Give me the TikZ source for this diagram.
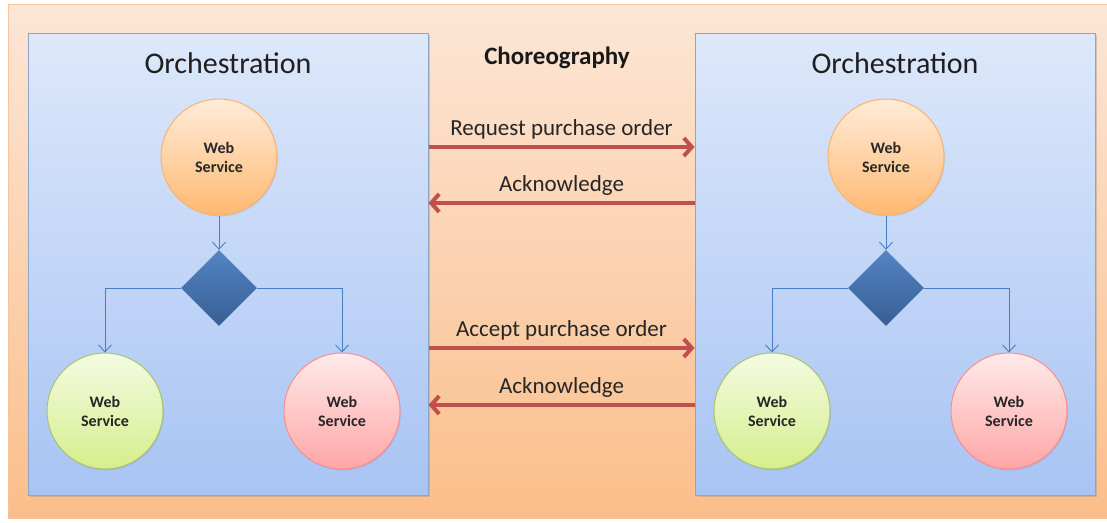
\documentclass[tikz,border=0pt]{standalone}
\usepackage{fontspec}
\setmainfont{Carlito}
\usepackage{xcolor}
\usepackage{tikz}
\usetikzlibrary{arrows.meta,shapes.geometric,shadows}
\definecolor{choretop}{HTML}{FCE6D6}
\definecolor{chorebottom}{HTML}{FBBE8A}
\definecolor{choreborder}{HTML}{F6C49C}
\definecolor{paneltop}{HTML}{DDE8FA}
\definecolor{panelbottom}{HTML}{A8C4F4}
\definecolor{panelborder}{HTML}{8DA5C6}
\definecolor{flowblue}{HTML}{4A7EC2}
\definecolor{msgred}{HTML}{C0504D}
\definecolor{greentop}{HTML}{F4FBE2}
\definecolor{greenbottom}{HTML}{D5EE8C}
\definecolor{greenborder}{HTML}{A9C46C}
\tikzset{
  chorebox/.style={draw=choreborder, line width=1pt, top color=choretop, bottom color=chorebottom, minimum width=1099pt, minimum height=514pt},
  panelbox/.style={draw=panelborder, line width=1pt, top color=paneltop, bottom color=panelbottom, minimum width=400pt, minimum height=462pt,
    drop shadow={shadow xshift=1.5pt, shadow yshift=-1.5pt, opacity=0.35, fill=black!45}},
  titletext/.style={font=\fontsize{30}{36}\selectfont, text=black!88},
  choretext/.style={font=\fontsize{25}{30}\selectfont\bfseries, text=black!90},
  wsnode/.style={circle, minimum size=116pt, inner sep=0pt, align=center, line width=1pt, font=\fontsize{16}{19}\selectfont\bfseries, text=black!85,
    drop shadow={shadow xshift=1pt, shadow yshift=-1.5pt, opacity=0.2, fill=black!50}},
  wsorange/.style={wsnode, draw=orange!60, top color=orange!15, bottom color=orange!55},
  wsgreen/.style={wsnode, draw=greenborder, top color=greentop, bottom color=greenbottom},
  wsred/.style={wsnode, draw=red!45, top color=red!8, bottom color=red!35},
  decision/.style={diamond, minimum width=76pt, minimum height=76pt, inner sep=0pt, top color=flowblue!95, bottom color=flowblue!75!black, draw=none},
  flowline/.style={-{Straight Barb[length=7pt,width=13pt]}, draw=flowblue, line width=0.9pt},
  msgarrow/.style={-{Straight Barb[length=8pt,width=18pt]}, draw=msgred, line width=4pt},
  msglabel/.style={above=2pt, font=\fontsize{23}{27}\selectfont, text=black!85}
}
\begin{document}
\begin{tikzpicture}[x=1pt, y=-1pt]
  \useasboundingbox (0,0) rectangle (1107,522);
  \node[chorebox] (chore) at (557.5,261) {};
  \node[choretext] (choretitle) at (557,58) {Choreography};
  % left orchestration
  \node[panelbox] (lbox) at (228,264) {};
  \node[titletext] (ltitle) at (228,63) {Orchestration};
  \node[wsorange] (lws) at (219,157) {Web\\Service};
  \node[decision] (ldec) at (219,288) {};
  \node[wsgreen] (lgreen) at (105,411) {Web\\Service};
  \node[wsred] (lred) at (342,411) {Web\\Service};
  \draw[flowline] (lws) -- (ldec);
  \draw[flowline] (ldec.west) -| (lgreen);
  \draw[flowline] (ldec.east) -| (lred);
  % right orchestration
  \node[panelbox] (rbox) at (895,264) {};
  \node[titletext] (rtitle) at (895,63) {Orchestration};
  \node[wsorange] (rws) at (886,157) {Web\\Service};
  \node[decision] (rdec) at (886,288) {};
  \node[wsgreen] (rgreen) at (772,411) {Web\\Service};
  \node[wsred] (rred) at (1009,411) {Web\\Service};
  \draw[flowline] (rws) -- (rdec);
  \draw[flowline] (rdec.west) -| (rgreen);
  \draw[flowline] (rdec.east) -| (rred);
  % messages
  \draw[msgarrow] (lbox.east |- 0,147) -- node[msglabel] (req) {Request purchase order} (rbox.west |- 0,147);
  \draw[msgarrow] (rbox.west |- 0,203) -- node[msglabel] (ack1) {Acknowledge} (lbox.east |- 0,203);
  \draw[msgarrow] (lbox.east |- 0,348) -- node[msglabel] (acc) {Accept purchase order} (rbox.west |- 0,348);
  \draw[msgarrow] (rbox.west |- 0,405) -- node[msglabel] (ack2) {Acknowledge} (lbox.east |- 0,405);
\end{tikzpicture}
\end{document}
